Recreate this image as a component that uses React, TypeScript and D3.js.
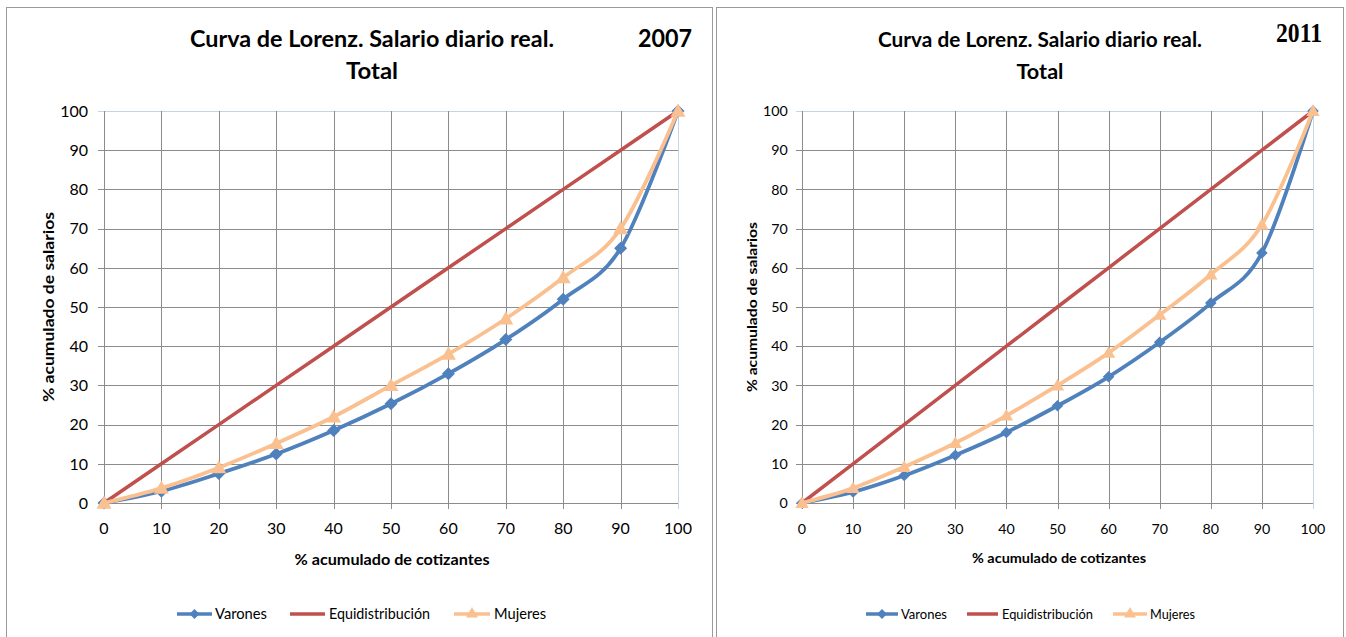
import * as d3 from "d3"

const xValues = [0, 10, 20, 30, 40, 50, 60, 70, 80, 90, 100]
const yTicks = [0, 10, 20, 30, 40, 50, 60, 70, 80, 90, 100]

const varones2007 = [0, 3, 7.5, 12.5, 18.5, 25.3, 33, 41.7, 52, 65, 100]
const mujeres2007 = [0, 3.8, 9, 15.2, 22, 30, 38, 47, 57.5, 70, 100]
const equi = [0, 10, 20, 30, 40, 50, 60, 70, 80, 90, 100]

const varones2011 = [0, 2.8, 7, 12.2, 18, 24.8, 32.2, 41, 51, 63.8, 100]
const mujeres2011 = [0, 3.8, 9.2, 15.3, 22.3, 30, 38.3, 48, 58.3, 71, 100]

const seriesNames = ["Varones", "Equidistribución", "Mujeres"]

const BLUE = "#4f81bd"
const RED = "#c0504d"
const ORANGE = "#fac090"
const GRID = "#8c8c8c"
const FONT = "Lato, 'Open Sans', sans-serif"

type LegendItem = { x0: number; x1: number; tx: number; tw: number }

type PanelProps = {
  frame: [number, number]
  plot: [number, number]
  scale: number
  titleX: number
  titleW: number
  totalW: number
  year: string
  yearX: number
  yearY: number
  yearW: number
  yearSize: number
  yearFont: string
  xTitleX: number
  xTitleW: number
  xTitleY: number
  yTitleX: number
  yTitleW: number
  varones: number[]
  mujeres: number[]
  legend: LegendItem[]
}

function diamond(cx: number, cy: number, r: number) {
  return `M${cx},${cy - r}L${cx + r},${cy}L${cx},${cy + r}L${cx - r},${cy}Z`
}

function triangle(cx: number, cy: number, r: number) {
  return `M${cx},${cy - r}L${cx + r},${cy + r * 0.75}L${cx - r},${cy + r * 0.75}Z`
}

function Panel(p: PanelProps) {
  const top = 111
  const bottom = 503
  const x = d3.scaleLinear().domain([0, 100]).range(p.plot)
  const y = d3.scaleLinear().domain([0, 100]).range([bottom, top])
  const s = p.scale

  const smooth = d3
    .line<number>()
    .x((_, i) => x(xValues[i]))
    .y((d) => y(d))
    .curve(d3.curveCardinal.tension(0))
  const straight = d3
    .line<number>()
    .x((_, i) => x(xValues[i]))
    .y((d) => y(d))

  const colors = [BLUE, RED, ORANGE]

  return (
    <g fontFamily={FONT}>
      <rect
        x={p.frame[0] + 0.5}
        y={7.5}
        width={p.frame[1] - p.frame[0]}
        height={640}
        fill="white"
        stroke="#9a9a9a"
      />
      <text
        x={p.titleX}
        y={47}
        textAnchor="middle"
        fontSize={23 * s}
        fontWeight="bold"
        textLength={p.titleW}
        lengthAdjust="spacingAndGlyphs"
      >
        Curva de Lorenz. Salario diario real.
      </text>
      <text
        x={p.titleX}
        y={79}
        textAnchor="middle"
        fontSize={23 * s}
        fontWeight="bold"
        textLength={p.totalW}
        lengthAdjust="spacingAndGlyphs"
      >
        Total
      </text>
      <text
        x={p.yearX}
        y={p.yearY}
        textAnchor="end"
        fontSize={p.yearSize}
        fontWeight="bold"
        fontFamily={p.yearFont}
        textLength={p.yearW}
        lengthAdjust="spacingAndGlyphs"
      >
        {p.year}
      </text>

      {/* grid */}
      {yTicks.map((t) => (
        <g key={`gy${t}`}>
          <line
            x1={p.plot[0] - 6}
            x2={p.plot[1]}
            y1={Math.round(y(t)) + 0.5}
            y2={Math.round(y(t)) + 0.5}
            stroke={t === 100 ? "#c6d3e8" : GRID}
          />
          <text
            x={p.plot[0] - 16 * s}
            y={y(t)}
            dy="0.36em"
            textAnchor="end"
            fontSize={16 * s}
          >
            {t}
          </text>
        </g>
      ))}
      {xValues.map((t) => (
        <g key={`gx${t}`}>
          <line
            x1={Math.round(x(t)) + 0.5}
            x2={Math.round(x(t)) + 0.5}
            y1={top}
            y2={bottom + 6}
            stroke={t === 100 ? "#c6d3e8" : GRID}
          />
          <text x={x(t)} y={534} textAnchor="middle" fontSize={16 * s}>
            {t}
          </text>
        </g>
      ))}

      <text
        x={p.xTitleX}
        y={p.xTitleY}
        textAnchor="middle"
        fontSize={15 * s}
        fontWeight="bold"
        textLength={p.xTitleW}
        lengthAdjust="spacingAndGlyphs"
      >
        % acumulado de cotizantes
      </text>
      <text
        transform={`translate(${p.yTitleX},${(top + bottom) / 2}) rotate(-90)`}
        textAnchor="middle"
        fontSize={15 * s}
        fontWeight="bold"
        textLength={p.yTitleW}
        lengthAdjust="spacingAndGlyphs"
      >
        % acumulado de salarios
      </text>

      {/* series */}
      <path d={straight(equi) ?? ""} fill="none" stroke={RED} strokeWidth={3.5} />
      <path d={smooth(p.varones) ?? ""} fill="none" stroke={BLUE} strokeWidth={3.8} />
      {p.varones.map((v, i) => (
        <path key={`v${i}`} d={diamond(x(xValues[i]), y(v), 6.5 * s)} fill={BLUE} />
      ))}
      <path d={smooth(p.mujeres) ?? ""} fill="none" stroke={ORANGE} strokeWidth={3.8} />
      {p.mujeres.map((v, i) => (
        <path key={`m${i}`} d={triangle(x(xValues[i]), y(v), 7.5 * s)} fill={ORANGE} />
      ))}

      {/* legend */}
      {seriesNames.map((name, i) => {
        const it = p.legend[i]
        const mid = (it.x0 + it.x1) / 2
        return (
          <g key={name}>
            <line
              x1={it.x0}
              x2={it.x1}
              y1={614}
              y2={614}
              stroke={colors[i]}
              strokeWidth={3.5}
            />
            {i === 0 ? <path d={diamond(mid, 614, 5)} fill={BLUE} /> : null}
            {i === 2 ? <path d={triangle(mid, 613, 6)} fill={ORANGE} /> : null}
            <text
              x={it.tx}
              y={614}
              dy="0.36em"
              fontSize={15 * s}
              textLength={it.tw}
              lengthAdjust="spacingAndGlyphs"
            >
              {name}
            </text>
          </g>
        )
      })}
    </g>
  )
}

export default function App() {
  return (
    <svg
      width={1346}
      height={637}
      style={{ position: "absolute", left: 0, top: 0, background: "white" }}
    >
      <rect width={1346} height={637} fill="white" />
      <Panel
        frame={[6, 712]}
        plot={[104, 678]}
        scale={1}
        titleX={372}
        titleW={364}
        totalW={52}
        year="2007"
        yearX={692}
        yearY={47}
        yearW={54}
        yearSize={24}
        yearFont={FONT}
        xTitleX={392}
        xTitleW={195}
        xTitleY={565}
        yTitleX={54}
        yTitleW={190}
        varones={varones2007}
        mujeres={mujeres2007}
        legend={[
          { x0: 177, x1: 212, tx: 215, tw: 52 },
          { x0: 290, x1: 325, tx: 329, tw: 101 },
          { x0: 454, x1: 490, tx: 494, tw: 52 },
        ]}
      />
      <Panel
        frame={[716, 1343]}
        plot={[802, 1313]}
        scale={0.89}
        titleX={1040}
        titleW={324}
        totalW={47}
        year="2011"
        yearX={1322}
        yearY={42}
        yearW={46}
        yearSize={27}
        yearFont="'Liberation Serif', 'DejaVu Serif', serif"
        xTitleX={1059}
        xTitleW={174}
        xTitleY={563}
        yTitleX={757}
        yTitleW={170}
        varones={varones2011}
        mujeres={mujeres2011}
        legend={[
          { x0: 866, x1: 898, tx: 901, tw: 46 },
          { x0: 967, x1: 998, tx: 1002, tw: 91 },
          { x0: 1113, x1: 1147, tx: 1150, tw: 45 },
        ]}
      />
    </svg>
  )
}
